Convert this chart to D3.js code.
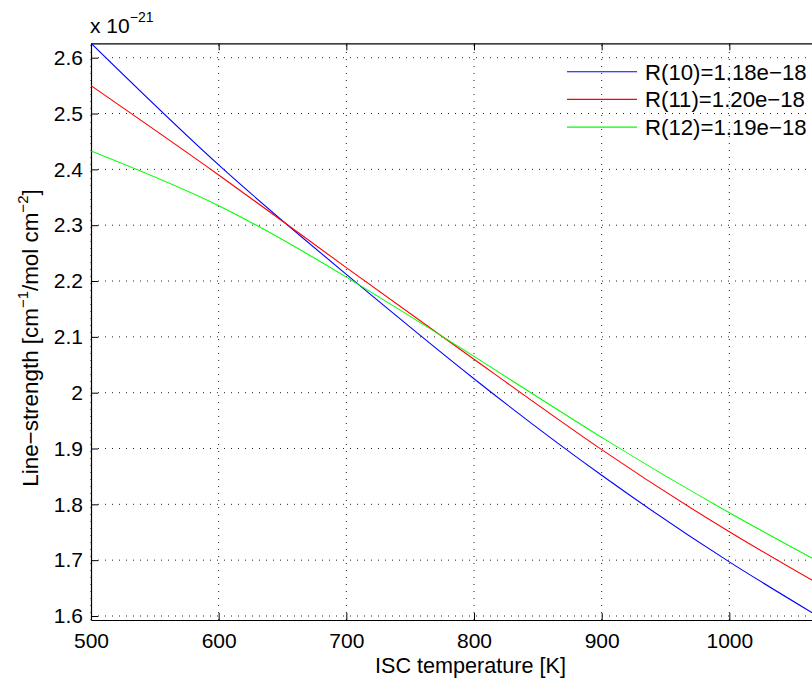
<!DOCTYPE html>
<html>
<head>
<meta charset="utf-8">
<script src="https://cdn.jsdelivr.net/npm/d3@7/dist/d3.min.js"></script>
<style>
html,body{margin:0;padding:0;background:#fff;overflow:hidden;width:812px;height:682px;}
text{font-family:"Liberation Sans",Arial,Helvetica,sans-serif;fill:#000;}
</style>
</head>
<body>
<svg id="chart" width="900" height="682"></svg>
<script>
// ---- data ----
const temperatures = [500, 600, 700, 800, 900, 1000, 1100];
const seriesNames = ["R(10)=1.18e\u221218", "R(11)=1.20e\u221218", "R(12)=1.19e\u221218"];
const seriesColors = ["#0000ff", "#ff0000", "#00ff00"];
const r10 = [2.626, 2.408, 2.212, 2.025, 1.852, 1.697, 1.558];
const r11 = [2.550, 2.390, 2.224, 2.060, 1.898, 1.751, 1.618];
const r12 = [2.433, 2.335, 2.207, 2.065, 1.920, 1.785, 1.660];
const xTicks = [500, 600, 700, 800, 900, 1000];
const xTickLabels = ["500", "600", "700", "800", "900", "1000"];
const yTicks = [1.6, 1.7, 1.8, 1.9, 2.0, 2.1, 2.2, 2.3, 2.4, 2.5, 2.6];
const yTickLabels = ["1.6", "1.7", "1.8", "1.9", "2", "2.1", "2.2", "2.3", "2.4", "2.5", "2.6"];

const allSeries = [r10, r11, r12];

(function () {
// ---- layout ----
const svg = d3.select("#chart");
const pL = 91, pR = 857, pT = 43.3, pB = 620;
const x = d3.scaleLinear().domain([500, 1100]).range([pL, pR]);
const y = d3.scaleLinear().domain([1.6, 2.6]).range([616, 57.7]);
const yTopVal = y.invert(pT), yBotVal = y.invert(pB);
y.domain([yBotVal, yTopVal]).range([pB, pT]);

const fs = 21;

svg.append("defs").append("clipPath").attr("id", "clip")
  .append("rect").attr("x", pL).attr("y", pT).attr("width", pR - pL).attr("height", pB - pT);

// grid
const grid = svg.append("g");
xTicks.forEach(t => {
  grid.append("line").attr("x1", x(t)).attr("x2", x(t)).attr("y1", pB).attr("y2", pT)
    .attr("stroke", "#222").attr("stroke-width", 1).attr("stroke-dasharray", "1,6");
});
yTicks.forEach(t => {
  grid.append("line").attr("x1", pL).attr("x2", pR).attr("y1", y(t)).attr("y2", y(t))
    .attr("stroke", "#222").attr("stroke-width", 1).attr("stroke-dasharray", "1,6");
});

// axes with inner ticks
const tl = 7;
const axB = svg.append("g").attr("transform", `translate(0,${pB})`)
  .call(d3.axisBottom(x).tickValues(xTicks).tickSizeInner(-tl).tickSizeOuter(0).tickPadding(13)
    .tickFormat((d, i) => xTickLabels[i]));
const axT = svg.append("g").attr("transform", `translate(0,${pT})`)
  .call(d3.axisTop(x).tickValues(xTicks).tickSizeInner(-tl).tickSizeOuter(0).tickFormat(""));
const axL = svg.append("g").attr("transform", `translate(${pL},0)`)
  .call(d3.axisLeft(y).tickValues(yTicks).tickSizeInner(-tl).tickSizeOuter(0).tickPadding(8)
    .tickFormat((d, i) => yTickLabels[i]));
const axR = svg.append("g").attr("transform", `translate(${pR},0)`)
  .call(d3.axisRight(y).tickValues(yTicks).tickSizeInner(-tl).tickSizeOuter(0).tickFormat(""));
[axB, axT, axL, axR].forEach(a => {
  a.select(".domain").attr("stroke", "#000").attr("stroke-width", 1.2);
  a.selectAll(".tick line").attr("stroke", "#000").attr("stroke-width", 1);
  a.selectAll("text").style("font-size", fs + "px").attr("fill", "#000")
    .style("font-family", '"Liberation Sans",Arial,sans-serif');
});
axB.selectAll("text").attr("dy", "0.71em");

// lines
const line = d3.line().x((d, i) => x(temperatures[i])).y(d => y(d)).curve(d3.curveNatural);
const lines = svg.append("g").attr("clip-path", "url(#clip)");
allSeries.forEach((s, k) => {
  lines.append("path").datum(s).attr("d", line).attr("fill", "none")
    .attr("stroke", seriesColors[k]).attr("stroke-width", 1.1);
});

// exponent label
const ex = svg.append("text").attr("x", 90).attr("y", 33).style("font-size", fs + "px");
ex.append("tspan").text("x 10");
ex.append("tspan").attr("dy", -11).style("font-size", "14px").text("\u221221");

// axis labels
svg.append("text").attr("x", 470.5).attr("y", 673).attr("text-anchor", "middle")
  .style("font-size", "21.6px").text("ISC temperature [K]");
const yl = svg.append("text").attr("transform", `translate(37.5,338) rotate(-90)`)
  .attr("text-anchor", "middle").style("font-size", "22.4px");
yl.append("tspan").text("Line\u2212strength [cm");
yl.append("tspan").attr("dy", -9.5).style("font-size", "15px").text("\u22121");
yl.append("tspan").attr("dy", 9.5).text("/mol cm");
yl.append("tspan").attr("dy", -9.5).style("font-size", "15px").text("\u22122");
yl.append("tspan").attr("dy", 9.5).text("]");

// legend
const lg = svg.append("g");
seriesNames.forEach((n, k) => {
  const ly = 71.7 + k * 27.7;
  lg.append("line").attr("x1", 567).attr("x2", 637).attr("y1", ly).attr("y2", ly)
    .attr("stroke", seriesColors[k]).attr("stroke-width", 1.1);
  lg.append("text").attr("x", 645).attr("y", ly + 7.8).style("font-size", "22.2px").text(n);
});
})();
</script>
</body>
</html>
